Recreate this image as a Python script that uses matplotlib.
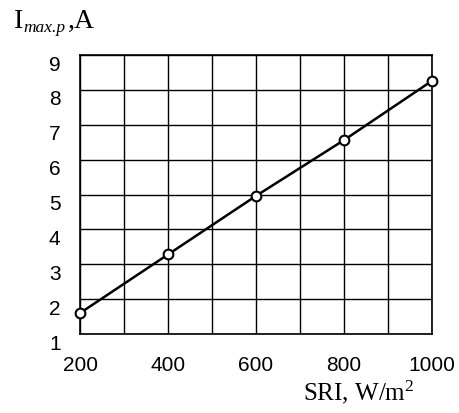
import matplotlib
matplotlib.use("Agg")
import matplotlib.pyplot as plt
import matplotlib.transforms as mtransforms

# solar radiation intensity vs max power point current
sri = [200, 400, 600, 800, 1000]
i_max = [1.60, 3.28, 4.96, 6.56, 8.26]

x_ticks = [200, 400, 600, 800, 1000]
y_ticks = [1, 2, 3, 4, 5, 6, 7, 8, 9]

plt.rcParams['mathtext.fontset'] = 'custom'
plt.rcParams['mathtext.rm'] = 'Liberation Serif'
plt.rcParams['mathtext.it'] = 'Liberation Serif:italic'

fig = plt.figure(figsize=(4.59, 4.14), dpi=100)
ax = fig.add_axes([0.1743, 0.1908, 0.7669, 0.6739])

ax.plot(sri, i_max, color='black', linewidth=1.8, marker='o', markersize=7,
        markerfacecolor='white', markeredgecolor='black', markeredgewidth=1.5,
        zorder=3, clip_on=False)

ax.set_xlim(200, 1000)
ax.set_ylim(1, 9)
ax.set_xticks(x_ticks)
ax.set_yticks(y_ticks)
ax.set_xticks(range(300, 1000, 200), minor=True)
ax.grid(True, which='both', color='black', linewidth=1.0)
ax.tick_params(which='both', length=0)
ax.tick_params(axis='x', pad=15)
ax.tick_params(axis='y', pad=14)

for lbl in ax.get_xticklabels() + ax.get_yticklabels():
    lbl.set_fontfamily('Liberation Sans')
    lbl.set_fontsize(15)

# y labels sit a bit below their grid lines
offset = mtransforms.ScaledTranslation(0, -7 / 100, fig.dpi_scale_trans)
for lbl in ax.get_yticklabels():
    lbl.set_transform(lbl.get_transform() + offset)

for s in ax.spines.values():
    s.set_linewidth(1.2)

# y axis title: I with italic subscript
fig.text(14 / 459, 1 - 28 / 414, 'I', family='Liberation Serif',
         fontsize=20, va='baseline', ha='left')
fig.text(23 / 459, 1 - 32 / 414, 'max.p', family='Liberation Serif',
         style='italic', fontsize=12.5, va='baseline', ha='left')
fig.text(68 / 459, 1 - 28 / 414, ',A', family='Liberation Serif',
         fontsize=20, va='baseline', ha='left')

fig.text(303 / 459, 1 - 400 / 414, r'SRI, W/m$^{2}$', family='Liberation Serif',
         fontsize=18, va='baseline', ha='left')

fig.savefig('out.png', dpi=100)
